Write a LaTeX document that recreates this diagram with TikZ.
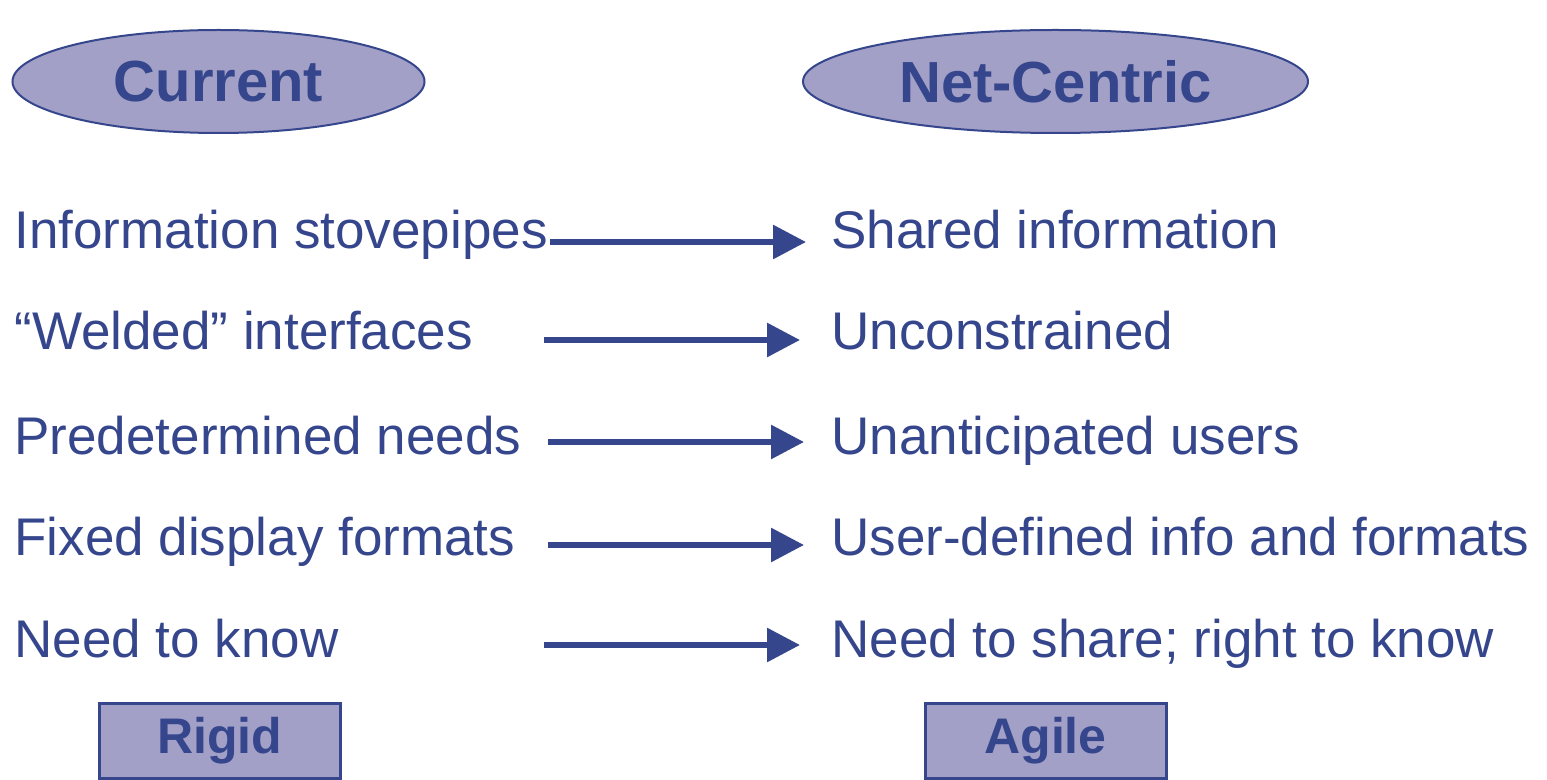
\documentclass[tikz,border=0pt]{standalone}
\usepackage{fontspec}
\setmainfont{Liberation Sans}
\usetikzlibrary{arrows.meta,shapes.geometric}
\definecolor{navy}{HTML}{35468C}
\definecolor{lav}{HTML}{A3A0C8}
\begin{document}
\begin{tikzpicture}[x=0.5pt,y=-0.5pt,
  head/.style={ellipse,draw=navy,fill=lav,line width=1pt,inner sep=0pt,text=navy,font=\fontsize{29}{34}\selectfont\bfseries},
  tag/.style={rectangle,draw=navy,fill=lav,line width=1.5pt,inner sep=0pt,text=navy,font=\fontsize{25}{30}\selectfont\bfseries},
  item/.style={anchor=base west,inner sep=0pt,text=navy,font=\fontsize{26.5}{32}\selectfont},
  arr/.style={draw=navy,line width=3pt,-{Triangle[length=16.5pt,width=16.5pt]}}]
\useasboundingbox (0,0) rectangle (1547,780);
\node[head,minimum width=206pt,minimum height=51.5pt] (cur) at (218.5,81.5) {Current};
\node[head,minimum width=252.5pt,minimum height=51.5pt] (net) at (1055.5,81.5) {Net-Centric};
\node[item] (l1) at (14,249) {Information stovepipes};
\node[item] (l2) at (14,350) {“Welded” interfaces};
\node[item] (l3) at (14,454) {Predetermined needs};
\node[item] (l4) at (14,555) {Fixed display formats};
\node[item] (l5) at (14,657) {Need to know};
\node[item] (r1) at (831,249) {Shared information};
\node[item] (r2) at (831,350) {Unconstrained};
\node[item] (r3) at (831,454) {Unanticipated users};
\node[item] (r4) at (831,555) {User-defined info and formats};
\node[item] (r5) at (831,657) {Need to share; right to know};
\coordinate (s1) at (550,242); \coordinate (e1) at (806,242);
\coordinate (s2) at (544,340); \coordinate (e2) at (800,340);
\coordinate (s3) at (548,442); \coordinate (e3) at (804,442);
\coordinate (s4) at (548,545); \coordinate (e4) at (804,545);
\coordinate (s5) at (544,645); \coordinate (e5) at (800,645);
\foreach \i in {1,...,5} {\draw[arr] (s\i) -- (e\i);}
\node[tag,minimum width=120.5pt,minimum height=37.5pt] (rig) at (219.5,740.5) {Rigid};
\node[tag,minimum width=120.5pt,minimum height=37.5pt] (agi) at (1045.5,740.5) {Agile};
\end{tikzpicture}
\end{document}
